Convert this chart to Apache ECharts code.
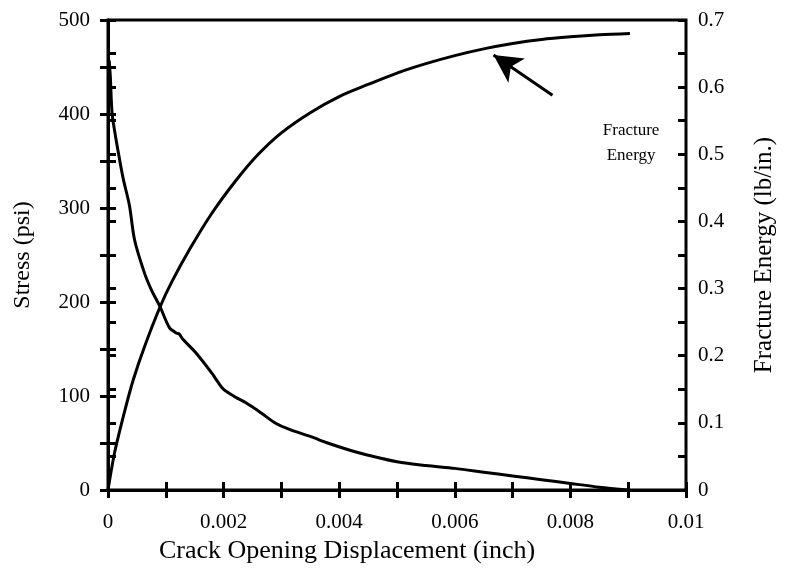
<!DOCTYPE html>
<html>
<head>
<meta charset="utf-8">
<script src="https://cdn.jsdelivr.net/npm/echarts@6/dist/echarts.min.js"></script>
<style>html,body{margin:0;padding:0;background:#fff}#c{width:785px;height:571px}</style>
</head>
<body>
<div id="c"></div>
<script>
// ---- data ----
var stressX = [0.00002, 0.00004, 0.00007, 0.00012, 0.00017, 0.00026, 0.00037, 0.00046, 0.00063, 0.00075, 0.0009, 0.00106, 0.00118, 0.00123, 0.0013, 0.00152, 0.0018, 0.0019, 0.002, 0.0022, 0.00238, 0.00265, 0.0029, 0.00316, 0.0035, 0.0038, 0.0042, 0.0045, 0.005, 0.0055, 0.006, 0.0065, 0.007, 0.0075, 0.008, 0.0085, 0.009];
var stressY = [457, 440, 401, 380, 362, 332, 303, 266, 231, 213, 195, 173, 167, 166, 160, 146, 124, 115, 107, 99, 93, 82, 71, 64, 57, 50, 42, 37, 30, 26, 23, 19, 15, 11, 7, 3, 0];
var energyX = [0, 0.00012, 0.00029, 0.00044, 0.00063, 0.0009, 0.00111, 0.00143, 0.0018, 0.00222, 0.0026, 0.003, 0.0035, 0.004, 0.0045, 0.005, 0.0055, 0.006, 0.0065, 0.007, 0.0075, 0.008, 0.0085, 0.00903];
var energyY = [0, 0.058, 0.118, 0.165, 0.213, 0.2725, 0.311, 0.361, 0.4126, 0.4617, 0.500, 0.532, 0.562, 0.586, 0.604, 0.621, 0.635, 0.647, 0.657, 0.665, 0.671, 0.675, 0.678, 0.680];
var xTickLabels = ['0', '0.002', '0.004', '0.006', '0.008', '0.01'];
var stressTickLabels = ['0', '100', '200', '300', '400', '500'];
var energyTickLabels = ['0', '0.1', '0.2', '0.3', '0.4', '0.5', '0.6', '0.7'];
var annotationText = 'Fracture\nEnergy';
var annotationPos = [0.00905, 0.517];
var arrowFrom = [0.00769, 0.588];
var arrowTo = [0.00667, 0.648];

function zip(a, b) { return a.map(function (v, i) { return [v, b[i]]; }); }

var FONT = 'Liberation Serif';
var axisLine = { show: true, lineStyle: { color: '#000', width: 3 } };
var tickOut = { show: true, inside: false, length: 8, lineStyle: { color: '#000', width: 3 } };
var tickIn = { show: true, inside: true, length: 8, lineStyle: { color: '#000', width: 3 } };
var lbl = { color: '#000', fontFamily: FONT, fontSize: 21 };

function xLabel(v) {
  var k = Math.round(v * 1000);
  return k % 2 === 0 ? xTickLabels[k / 2] : '';
}
function sLabel(v) {
  var k = Math.round(v);
  return k % 100 === 0 ? stressTickLabels[k / 100] : '';
}
function eLabel(v) {
  var k = Math.round(v * 100);
  return k % 10 === 0 ? energyTickLabels[k / 10] : '';
}

var chart = echarts.init(document.getElementById('c'), null, { renderer: 'canvas' });
chart.setOption({
  animation: false,
  backgroundColor: '#fff',
  grid: { left: 108, right: 92, top: 20, bottom: 81, show: true, borderColor: '#000', borderWidth: 3 },
  xAxis: [
    { type: 'value', min: 0, max: 0.01, interval: 0.001, position: 'bottom',
      axisLine: axisLine, axisTick: tickOut, splitLine: { show: false },
      axisLabel: Object.assign({ margin: 22, formatter: xLabel }, lbl),
      name: 'Crack Opening Displacement (inch)', nameLocation: 'middle', nameGap: 44,
      nameTextStyle: { color: '#000', fontFamily: FONT, fontSize: 26, padding: [0, 100, 0, 0] } },
    { type: 'value', min: 0, max: 0.01, interval: 0.001, position: 'bottom', offset: 0,
      axisLine: { show: false }, axisTick: tickIn, splitLine: { show: false }, axisLabel: { show: false } }
  ],
  yAxis: [
    { type: 'value', min: 0, max: 500, interval: 50, position: 'left',
      axisLine: axisLine, axisTick: tickOut, splitLine: { show: false },
      axisLabel: Object.assign({ margin: 18, formatter: sLabel }, lbl),
      name: 'Stress (psi)', nameLocation: 'middle', nameGap: 73,
      nameTextStyle: { color: '#000', fontFamily: FONT, fontSize: 24 } },
    { type: 'value', min: 0, max: 0.7, interval: 0.05, position: 'right',
      axisLine: axisLine, axisTick: tickOut, splitLine: { show: false },
      axisLabel: Object.assign({ margin: 12, formatter: eLabel }, lbl),
      name: 'Fracture Energy (lb/in.)', nameLocation: 'middle', nameGap: 66, nameRotate: 90,
      nameTextStyle: { color: '#000', fontFamily: FONT, fontSize: 25 } },
    { type: 'value', min: 0, max: 500, interval: 50, position: 'left', offset: 0,
      axisLine: { show: false }, axisTick: tickIn, splitLine: { show: false }, axisLabel: { show: false } },
    { type: 'value', min: 0, max: 0.7, interval: 0.05, position: 'right', offset: 0,
      axisLine: { show: false }, axisTick: tickIn, splitLine: { show: false }, axisLabel: { show: false } }
  ],
  series: [
    { type: 'line', name: 'Stress', xAxisIndex: 0, yAxisIndex: 0, data: zip(stressX, stressY),
      showSymbol: false, smooth: 0.3, lineStyle: { color: '#000', width: 3 } },
    { type: 'line', name: 'Fracture Energy', xAxisIndex: 0, yAxisIndex: 1, data: zip(energyX, energyY),
      showSymbol: false, smooth: 0.3, lineStyle: { color: '#000', width: 3 },
      markLine: { silent: true, symbol: ['none', 'arrow'], symbolSize: [22, 28],
        lineStyle: { color: '#000', width: 3, type: 'solid' }, label: { show: false },
        data: [[{ coord: arrowFrom }, { coord: arrowTo }]] },
      markPoint: { silent: true, symbol: 'circle', symbolSize: 0,
        data: [{ coord: annotationPos }],
        label: { show: true, position: 'inside', formatter: annotationText, color: '#000',
          fontFamily: FONT, fontSize: 17, lineHeight: 25, align: 'center' } } }
  ]
});
</script>
</body>
</html>
